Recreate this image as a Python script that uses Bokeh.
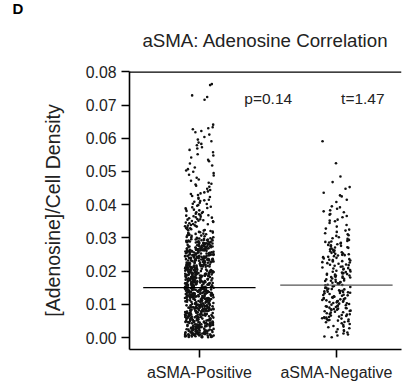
from bokeh.plotting import figure
from bokeh.models import (ColumnDataSource, FixedTicker, Title, Range1d,
                          NumeralTickFormatter, Span)
from bokeh.core.properties import value
from bokeh.transform import jitter
from bokeh.embed import file_html
from bokeh.resources import INLINE

# ---------------- data ----------------
groups = ["aSMA-Positive", "aSMA-Negative"]
group_pos = [1, 2]
group_means = [0.0150, 0.0158]
mean_colors = ["#000000", "#555555"]
y_ticks = [0.00, 0.01, 0.02, 0.03, 0.04, 0.05, 0.06, 0.07, 0.08]
stat_texts = ["p=0.14", "t=1.47"]

positive_values = [
    0.0012, 0.0187, 0.0093, 0.0251, 0.0046, 0.0139, 0.0218, 0.0071, 0.0164, 0.0029, 0.0272, 0.0108, 0.0195, 0.0057, 0.0233,
    0.0148, 0.0021, 0.0264, 0.0116, 0.0083, 0.0209, 0.0038, 0.0176, 0.0241, 0.0064, 0.0127, 0.0003, 0.0199, 0.0152, 0.0089,
    0.0227, 0.0051, 0.0133, 0.0278, 0.0098, 0.0017, 0.0184, 0.0246, 0.0069, 0.0122, 0.0211, 0.0035, 0.0167, 0.0259, 0.0104,
    0.0076, 0.0192, 0.0008, 0.0143, 0.0236, 0.0059, 0.0171, 0.0114, 0.0268, 0.0026, 0.0203, 0.0087, 0.0155, 0.0044, 0.0222,
    0.0131, 0.0253, 0.0067, 0.0015, 0.0181, 0.0097, 0.0229, 0.0142, 0.0033, 0.0275, 0.0119, 0.0206, 0.0073, 0.0161, 0.0049,
    0.0214, 0.0101, 0.0039, 0.0178, 0.0262, 0.0124, 0.0006, 0.0196, 0.0081, 0.0244, 0.0157, 0.0062, 0.0135, 0.0027, 0.0189,
    0.0091, 0.0237, 0.0149, 0.0011, 0.0205, 0.0074, 0.0169, 0.0257, 0.0043, 0.0112, 0.0224, 0.0136, 0.0019, 0.0183, 0.0266,
    0.0055, 0.0128, 0.0248, 0.0085, 0.0174, 0.0002, 0.0216, 0.0109, 0.0158, 0.0037, 0.0271, 0.0198, 0.0066, 0.0141, 0.0231,
    0.0018, 0.0163, 0.0095, 0.0255, 0.0120, 0.0048, 0.0186, 0.0239, 0.0072, 0.0145, 0.0009, 0.0212, 0.0103, 0.0176, 0.0274,
    0.0138, 0.0061, 0.0201, 0.0031, 0.0249, 0.0115, 0.0168, 0.0084, 0.0226, 0.0014, 0.0193, 0.0129, 0.0052, 0.0263, 0.0099,
    0.0179, 0.0024, 0.0232, 0.0107, 0.0154, 0.0069, 0.0270, 0.0137, 0.0041, 0.0208, 0.0088, 0.0173, 0.0005, 0.0243, 0.0126,
    0.0058, 0.0219, 0.0147, 0.0035, 0.0191, 0.0260, 0.0078, 0.0118, 0.0013, 0.0234, 0.0162, 0.0094, 0.0202, 0.0045, 0.0277,
    0.0111, 0.0185, 0.0028, 0.0252, 0.0068, 0.0140, 0.0221, 0.0001, 0.0166, 0.0096, 0.0245, 0.0053, 0.0132, 0.0197, 0.0080,
    0.0240, 0.0022, 0.0159, 0.0106, 0.0265, 0.0047, 0.0188, 0.0123, 0.0070, 0.0213, 0.0150, 0.0010, 0.0230, 0.0090, 0.0172,
    0.0034, 0.0204, 0.0125, 0.0269, 0.0063, 0.0180, 0.0016, 0.0144, 0.0228, 0.0086, 0.0195, 0.0042, 0.0258, 0.0117, 0.0153,
    0.0247, 0.0075, 0.0134, 0.0007, 0.0217, 0.0100, 0.0165, 0.0279, 0.0056, 0.0190, 0.0121, 0.0030, 0.0238, 0.0146, 0.0082,
    0.0170, 0.0040, 0.0261, 0.0113, 0.0194, 0.0023, 0.0151, 0.0235, 0.0065, 0.0130, 0.0209, 0.0092, 0.0004, 0.0182, 0.0254,
    0.0102, 0.0225, 0.0054, 0.0160, 0.0032, 0.0273, 0.0139, 0.0077, 0.0200, 0.0118, 0.0012, 0.0242, 0.0168, 0.0060, 0.0215,
    0.0026, 0.0177, 0.0250, 0.0089, 0.0144, 0.0220, 0.0050, 0.0110, 0.0187, 0.0267, 0.0036, 0.0156, 0.0098, 0.0232, 0.0071,
    0.0196, 0.0131, 0.0008, 0.0256, 0.0079, 0.0164, 0.0211, 0.0044, 0.0127, 0.0276, 0.0093, 0.0185, 0.0020, 0.0148, 0.0239,
    0.0062, 0.0207, 0.0114, 0.0175, 0.0029, 0.0244, 0.0137, 0.0085, 0.0268, 0.0003, 0.0159, 0.0222, 0.0108, 0.0049, 0.0192,
    0.0142, 0.0264, 0.0038, 0.0199, 0.0120, 0.0067, 0.0228, 0.0015, 0.0173, 0.0253, 0.0097, 0.0135, 0.0058, 0.0205, 0.0179,
    0.0011, 0.0161, 0.0236, 0.0074, 0.0105, 0.0189, 0.0272, 0.0046, 0.0152, 0.0218, 0.0083, 0.0025, 0.0248, 0.0124, 0.0167,
    0.0214, 0.0052, 0.0128, 0.0261, 0.0183, 0.0006, 0.0095, 0.0240, 0.0140, 0.0070, 0.0201, 0.0033, 0.0278, 0.0116, 0.0157,
    0.0087, 0.0230, 0.0017, 0.0171, 0.0109, 0.0257, 0.0063, 0.0194, 0.0145, 0.0039, 0.0226, 0.0101, 0.0182, 0.0266, 0.0054,
    0.0149, 0.0002, 0.0212, 0.0081, 0.0270, 0.0133, 0.0047, 0.0176, 0.0237, 0.0119, 0.0021, 0.0203, 0.0068, 0.0155, 0.0246,
    0.0031, 0.0186, 0.0126, 0.0259, 0.0091, 0.0163, 0.0014, 0.0223, 0.0078, 0.0138, 0.0274, 0.0057, 0.0197, 0.0112, 0.0233,
    0.0169, 0.0043, 0.0251, 0.0104, 0.0208, 0.0027, 0.0143, 0.0263, 0.0072, 0.0190, 0.0009, 0.0158, 0.0234, 0.0122, 0.0086,
    0.0007, 0.0134, 0.0221, 0.0058, 0.0189, 0.0096, 0.0267, 0.0143, 0.0031, 0.0205, 0.0112, 0.0254, 0.0076, 0.0168, 0.0293,
    0.0119, 0.0045, 0.0238, 0.0181, 0.0013, 0.0152, 0.0276, 0.0087, 0.0200, 0.0061, 0.0129, 0.0246, 0.0024, 0.0173, 0.0285,
    0.0066, 0.0211, 0.0139, 0.0004, 0.0257, 0.0102, 0.0186, 0.0039, 0.0229, 0.0155, 0.0081, 0.0298, 0.0120, 0.0016, 0.0193,
    0.0242, 0.0091, 0.0170, 0.0027, 0.0218, 0.0137, 0.0064, 0.0281, 0.0108, 0.0196, 0.0050, 0.0148, 0.0263, 0.0011, 0.0226,
    0.0084, 0.0160, 0.0033, 0.0249, 0.0124, 0.0198, 0.0057, 0.0271, 0.0146, 0.0010, 0.0214, 0.0093, 0.0177, 0.0289, 0.0040,
    0.0131, 0.0260, 0.0072, 0.0187, 0.0019, 0.0235, 0.0115, 0.0165, 0.0047, 0.0279, 0.0099, 0.0207, 0.0141, 0.0026, 0.0252,
    0.0176, 0.0053, 0.0224, 0.0106, 0.0292, 0.0138, 0.0069, 0.0202, 0.0002, 0.0161, 0.0244, 0.0085, 0.0127, 0.0269, 0.0035,
    0.0215, 0.0097, 0.0150, 0.0021, 0.0183, 0.0258, 0.0063, 0.0117, 0.0231, 0.0044, 0.0194, 0.0274, 0.0132, 0.0078, 0.0008,
    0.0163, 0.0286, 0.0110, 0.0037, 0.0209, 0.0145, 0.0082, 0.0250, 0.0015, 0.0172, 0.0228, 0.0059, 0.0135, 0.0265, 0.0101,
    0.0049, 0.0192, 0.0121, 0.0277, 0.0070, 0.0158, 0.0236, 0.0029, 0.0204, 0.0089, 0.0142, 0.0295, 0.0012, 0.0180, 0.0247,
    0.0113, 0.0034, 0.0219, 0.0166, 0.0075, 0.0262, 0.0128, 0.0001, 0.0190, 0.0240, 0.0056, 0.0153, 0.0283, 0.0094, 0.0212,
    0.0025, 0.0179, 0.0256, 0.0104, 0.0147, 0.0042, 0.0232, 0.0086, 0.0199, 0.0272, 0.0130, 0.0018, 0.0167, 0.0061, 0.0222,
    0.0154, 0.0288, 0.0079, 0.0206, 0.0116, 0.0009, 0.0245, 0.0137, 0.0052, 0.0185, 0.0268, 0.0098, 0.0227, 0.0032, 0.0171,
    0.0090, 0.0234, 0.0014, 0.0144, 0.0259, 0.0068, 0.0195, 0.0123, 0.0280, 0.0043, 0.0159, 0.0213, 0.0107, 0.0006, 0.0186,
    0.0248, 0.0126, 0.0055, 0.0178, 0.0023, 0.0220, 0.0092, 0.0266, 0.0149, 0.0038, 0.0201, 0.0118, 0.0290, 0.0074, 0.0162,
    0.0017, 0.0197, 0.0139, 0.0253, 0.0083, 0.0169, 0.0030, 0.0237, 0.0111, 0.0275, 0.0060, 0.0188, 0.0125, 0.0004, 0.0216,
    0.0133, 0.0071, 0.0241, 0.0157, 0.0046, 0.0284, 0.0103, 0.0182, 0.0020, 0.0225, 0.0151, 0.0088, 0.0261, 0.0036, 0.0174,
    0.0208, 0.0048, 0.0118, 0.0270, 0.0095, 0.0164, 0.0011, 0.0243, 0.0136, 0.0067, 0.0192, 0.0296, 0.0080, 0.0150, 0.0228,
    0.0057, 0.0183, 0.0233, 0.0028, 0.0141, 0.0264, 0.0109, 0.0203, 0.0073, 0.0016, 0.0171, 0.0251, 0.0122, 0.0040, 0.0198,
    0.0145, 0.0272, 0.0086, 0.0217, 0.0003, 0.0160, 0.0230, 0.0064, 0.0129, 0.0287, 0.0051, 0.0190, 0.0114, 0.0255, 0.0022,
    0.0283, 0.0297, 0.0288, 0.0312, 0.0281, 0.0305, 0.0318, 0.0291, 0.0285, 0.0309, 0.0299, 0.0314, 0.0282, 0.0294, 0.0316,
    0.0287, 0.0302, 0.0319, 0.0290, 0.0307, 0.0284, 0.0296, 0.0311, 0.0300, 0.0289, 0.0315, 0.0293, 0.0303, 0.0286, 0.0310,
    0.0298, 0.0317, 0.0292, 0.0306, 0.0283, 0.0313, 0.0295, 0.0301, 0.0308, 0.0289,
    0.0323, 0.0341, 0.0356, 0.0329, 0.0347, 0.0335, 0.0352, 0.0321, 0.0338, 0.0359, 0.0326, 0.0344, 0.0331, 0.0350, 0.0337,
    0.0324, 0.0357, 0.0342, 0.0328, 0.0353, 0.0334, 0.0346, 0.0322, 0.0339, 0.0355, 0.0330, 0.0348, 0.0336, 0.0327, 0.0351,
    0.0362, 0.0385, 0.0371, 0.0394, 0.0367, 0.0378, 0.0399, 0.0364, 0.0389, 0.0375, 0.0361, 0.0392, 0.0381, 0.0369, 0.0397,
    0.0373, 0.0386, 0.0365, 0.0390, 0.0377, 0.0383, 0.0368,
    0.0403, 0.0421, 0.0437, 0.0411, 0.0448, 0.0426, 0.0406, 0.0432, 0.0415, 0.0444, 0.0409, 0.0429, 0.0418, 0.0440, 0.0402,
    0.0434, 0.0423, 0.0413,
    0.0454, 0.0472, 0.0488, 0.0461, 0.0495, 0.0466, 0.0481, 0.0457, 0.0499, 0.0476, 0.0463, 0.0490,
    0.0503, 0.0518, 0.0531, 0.0507, 0.0524, 0.0512, 0.0535, 0.0542, 0.0548,
    0.0552, 0.0558, 0.0573, 0.0587, 0.0565, 0.0596, 0.0579, 0.0591, 0.0569, 0.0583,
    0.0604, 0.0618, 0.0627, 0.0611, 0.0633, 0.0641, 0.0622, 0.0630,
    0.0716, 0.0724, 0.0729, 0.0760, 0.0763,
]

negative_values = [
    0.0003, 0.0017, 0.0041, 0.0009, 0.0028, 0.0046, 0.0012, 0.0035, 0.0022, 0.0049, 0.0006, 0.0031, 0.0043, 0.0015, 0.0038,
    0.0025, 0.0001, 0.0047, 0.0020, 0.0033,
    0.0052, 0.0078, 0.0094, 0.0061, 0.0085, 0.0057, 0.0099, 0.0069, 0.0081, 0.0054, 0.0090, 0.0073, 0.0063, 0.0087, 0.0058,
    0.0096, 0.0076, 0.0066, 0.0083, 0.0051, 0.0092, 0.0071, 0.0060, 0.0088, 0.0079, 0.0055, 0.0097, 0.0068, 0.0084, 0.0062,
    0.0093, 0.0075, 0.0059, 0.0089, 0.0070, 0.0080, 0.0053, 0.0095, 0.0065, 0.0086,
    0.0102, 0.0147, 0.0183, 0.0119, 0.0165, 0.0131, 0.0196, 0.0108, 0.0154, 0.0177, 0.0124, 0.0189, 0.0141, 0.0113, 0.0168,
    0.0135, 0.0192, 0.0106, 0.0159, 0.0128, 0.0181, 0.0145, 0.0117, 0.0172, 0.0199, 0.0138, 0.0104, 0.0162, 0.0186, 0.0121,
    0.0150, 0.0175, 0.0111, 0.0194, 0.0133, 0.0157, 0.0126, 0.0180, 0.0143, 0.0109, 0.0167, 0.0190, 0.0137, 0.0115, 0.0161,
    0.0184, 0.0129, 0.0152, 0.0101, 0.0197, 0.0140, 0.0170, 0.0118, 0.0163, 0.0187, 0.0134, 0.0107, 0.0155, 0.0178, 0.0123,
    0.0146, 0.0193, 0.0112, 0.0166, 0.0139, 0.0182, 0.0103, 0.0158, 0.0127, 0.0174, 0.0198, 0.0136, 0.0116, 0.0149, 0.0185,
    0.0120, 0.0171, 0.0142, 0.0110, 0.0191,
    0.0203, 0.0248, 0.0276, 0.0219, 0.0261, 0.0234, 0.0291, 0.0207, 0.0255, 0.0283, 0.0226, 0.0242, 0.0268, 0.0213, 0.0297,
    0.0238, 0.0272, 0.0201, 0.0251, 0.0229, 0.0286, 0.0216, 0.0264, 0.0245, 0.0209, 0.0279, 0.0232, 0.0258, 0.0222, 0.0294,
    0.0240, 0.0211, 0.0270, 0.0253, 0.0227, 0.0288, 0.0205, 0.0262, 0.0236, 0.0274, 0.0218, 0.0249, 0.0281, 0.0230, 0.0266,
    0.0214, 0.0257, 0.0299, 0.0243, 0.0224, 0.0278, 0.0208, 0.0260, 0.0285, 0.0233, 0.0247, 0.0271, 0.0220, 0.0289, 0.0252,
    0.0302, 0.0318, 0.0334, 0.0311, 0.0328, 0.0306, 0.0345, 0.0322, 0.0352, 0.0314, 0.0339, 0.0308, 0.0350, 0.0325, 0.0355,
    0.0370, 0.0377, 0.0380, 0.0372, 0.0395, 0.0362, 0.0388, 0.0366, 0.0383, 0.0392,
    0.0408, 0.0425, 0.0428, 0.0448, 0.0453, 0.0468, 0.0485, 0.0415, 0.0436,
    0.0525, 0.0591,
]

# ---------------- figure ----------------
FONT = "Liberation Sans"
TXT = "#222222"

p = figure(width=406, height=383, title=None,
           x_range=Range1d(0.49, 2.475), y_range=Range1d(-0.0036, 0.0801),
           output_backend="svg", toolbar_location=None,
           min_border_left=129, min_border_right=5, min_border_top=71, min_border_bottom=34)
p.grid.visible = False
p.outline_line_color = None
p.background_fill_color = "white"
p.border_fill_color = "white"

xs = [group_pos[0]] * len(positive_values) + [group_pos[1]] * len(negative_values)
ys = positive_values + negative_values
pts = ColumnDataSource(dict(x=xs, y=ys))
p.scatter(x=jitter("x", width=0.21, distribution="uniform"), y="y", source=pts,
          size=2.6, fill_color="#111111", line_color=None)

means = ColumnDataSource(dict(x0=[g - 0.41 for g in group_pos], x1=[g + 0.41 for g in group_pos],
                              y=group_means, c=mean_colors))
p.segment(x0="x0", y0="y", x1="x1", y1="y", source=means, line_color="c", line_width=1.3)

p.text(x=[1.328, 2.034], y=[0.0721, 0.0721], text=stat_texts, text_font=value(FONT),
       text_font_size="15.5px", text_color=TXT, text_baseline="alphabetic")

# top frame line
p.add_layout(Span(location=y_ticks[-1], dimension="width", line_color="black", line_width=1.6))

# axes
for ax in (p.xaxis[0], p.yaxis[0]):
    ax.axis_line_width = 1.6
    ax.axis_line_color = "black"
    ax.major_tick_line_width = 1.6
    ax.major_tick_line_color = "black"
    ax.major_tick_in = 0
    ax.major_tick_out = 8
    ax.minor_tick_line_color = None
    ax.major_label_text_font = FONT
    ax.major_label_text_color = TXT

p.xaxis.ticker = FixedTicker(ticks=group_pos)
p.xaxis.major_label_overrides = {g: name for g, name in zip(group_pos, groups)}
p.xaxis.major_label_standoff = 6
p.xaxis.major_label_text_font_size = "16px"

p.yaxis.ticker = FixedTicker(ticks=y_ticks)
p.yaxis.formatter = NumeralTickFormatter(format="0.00")
p.yaxis.major_label_standoff = 5
p.yaxis.major_label_text_font_size = "15.8px"
p.yaxis.axis_label = "[Adenosine]/Cell Density"
p.yaxis.axis_label_text_font = FONT
p.yaxis.axis_label_text_font_size = "19.5px"
p.yaxis.axis_label_text_font_style = "normal"
p.yaxis.axis_label_text_color = TXT
p.yaxis.axis_label_standoff = 19

p.add_layout(Title(text="aSMA: Adenosine Correlation", align="center", text_font=FONT,
                   text_font_size="18.7px", text_font_style="normal", text_color=TXT,
                   standoff=42), "above")
d_title = Title(text="D", align="left", offset=-117, text_font=FONT,
                text_font_size="15px", text_font_style="bold", text_color="black", standoff=0)
try:
    d_title.standoff = -20
except Exception:
    d_title.standoff = 0
p.add_layout(d_title, "above")

open("out.html", "w").write(file_html(p, INLINE))
